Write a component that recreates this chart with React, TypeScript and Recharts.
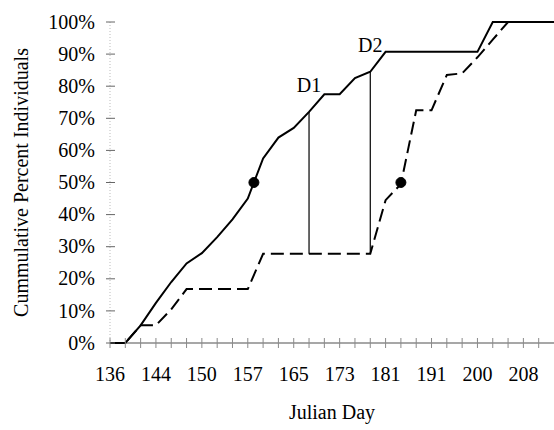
import {
  ComposedChart,
  Line,
  XAxis,
  YAxis,
  ReferenceLine,
  ReferenceDot,
  Label,
} from "recharts";

// sampling dates (only every third one is labelled on the axis)
const days = [
  136, 139, 141, 144, 146, 148, 150, 152, 155, 157, 160, 162, 165, 168, 170,
  173, 176, 178, 181, 184, 188, 191, 194, 197, 200, 203, 205, 208, 211, 213,
];
const solidPct = [
  0, 0, 5.5, 12.5, 19, 24.8, 28, 33, 38.5, 45, 57.5, 64, 67, 72, 77.5, 77.5,
  82.5, 84.5, 90.7, 90.7, 90.7, 90.7, 90.7, 90.7, 90.7, 100, 100, 100, 100, 100,
];
const dashedPct = [
  0, 0, 5.5, 5.5, 10.5, 16.8, 16.8, 16.8, 16.8, 16.8, 27.8, 27.8, 27.8, 27.8,
  27.8, 27.8, 27.8, 27.8, 44.5, 49.5, 72.5, 72.5, 83.5, 84, 89, 94.5, 100, 100,
  100, 100,
];
const yTicks = [0, 10, 20, 30, 40, 50, 60, 70, 80, 90, 100];
// D statistics (category index) and 50% crossing points
const dIndex = [13, 17];
const dNames = ["D1", "D2"];
const medians = [
  { i: 9.4, pct: 50 },
  { i: 19, pct: 50 },
];

const rows = days.map((d, i) => ({
  i,
  day: d,
  solid: solidPct[i],
  dashed: dashedPct[i],
}));

const FONT = "'Liberation Serif', 'Times New Roman', serif";

function XTick(props: any) {
  const { x, y, payload } = props;
  const idx = payload.value as number;
  return (
    <g>
      <line x1={x} x2={x} y1={y - 5} y2={y + 5} stroke="#8a8a8a" strokeWidth={1} />
      {idx % 3 === 0 && (
        <text x={x} y={y + 38} textAnchor="middle" fontFamily={FONT} fontSize={20} fill="#000">
          {days[idx]}
        </text>
      )}
    </g>
  );
}

function YTick(props: any) {
  const { x, y, payload } = props;
  return (
    <g>
      <line x1={x - 4} x2={x + 5} y1={y} y2={y} stroke="#666" strokeWidth={1} />
      <text x={x - 15} y={y} dy="0.33em" textAnchor="end" fontFamily={FONT} fontSize={20} fill="#000">
        {`${payload.value}%`}
      </text>
    </g>
  );
}

export default function App() {
  return (
    <div style={{ position: "absolute", left: 0, top: 0, background: "#fff" }}>
      <ComposedChart
        width={554}
        height={430}
        data={rows}
        margin={{ top: 22, right: 0, bottom: 0, left: 0 }}
      >
        <ReferenceLine y={0} stroke="#8a8a8a" strokeWidth={1.5} />
        <XAxis
          dataKey="i"
          type="number"
          domain={[0, 29]}
          ticks={days.slice(0, 29).map((_, i) => i)}
          interval={0}
          tickSize={0}
          tickMargin={0}
          tickLine={false}
          tick={<XTick />}
          height={87}
          axisLine={false}
        >
          <Label
            value="Julian Day"
            position="insideBottom"
            offset={11}
            style={{ fontFamily: FONT, fontSize: 20, fill: "#000" }}
          />
        </XAxis>
        <YAxis
          type="number"
          domain={[0, 100]}
          ticks={yTicks}
          interval={0}
          width={110}
          tickSize={0}
          tickMargin={0}
          tickLine={false}
          tick={<YTick />}
          axisLine={{ stroke: "#bbb", strokeDasharray: "1 2" }}
          label={{
            content: (p: any) => {
              const vb = p.viewBox;
              const cx = 21;
              const cy = vb.y + vb.height / 2;
              return (
                <text
                  x={cx}
                  y={cy}
                  transform={`rotate(-90, ${cx}, ${cy})`}
                  textAnchor="middle"
                  dy="0.33em"
                  fontFamily={FONT}
                  fontSize={20}
                  fill="#000"
                >
                  Cummulative Percent Individuals
                </text>
              );
            },
          }}
        />
        <Line
          type="linear"
          dataKey="dashed"
          stroke="#000"
          strokeWidth={2}
          strokeDasharray="13 6"
          dot={false}
          isAnimationActive={false}
        />
        <Line
          type="linear"
          dataKey="solid"
          stroke="#000"
          strokeWidth={2}
          dot={false}
          isAnimationActive={false}
        />
        {dIndex.map((di) => (
          <ReferenceLine
            key={`seg-${di}`}
            segment={[
              { x: di, y: dashedPct[di] },
              { x: di, y: solidPct[di] },
            ]}
            stroke="#000"
            strokeWidth={1.2}
          />
        ))}
        {dIndex.map((di, k) => (
          <ReferenceDot
            key={`lab-${di}`}
            x={di}
            y={solidPct[di]}
            r={0}
            fill="none"
            stroke="none"
            label={{
              value: dNames[k],
              position: "top",
              offset: 20,
              style: { fontFamily: FONT, fontSize: 20, fill: "#000" },
            }}
          />
        ))}
        {medians.map((m, k) => (
          <ReferenceDot
            key={`med-${k}`}
            x={m.i}
            y={m.pct}
            r={5}
            fill="#000"
            stroke="#000"
          />
        ))}
      </ComposedChart>
    </div>
  );
}
